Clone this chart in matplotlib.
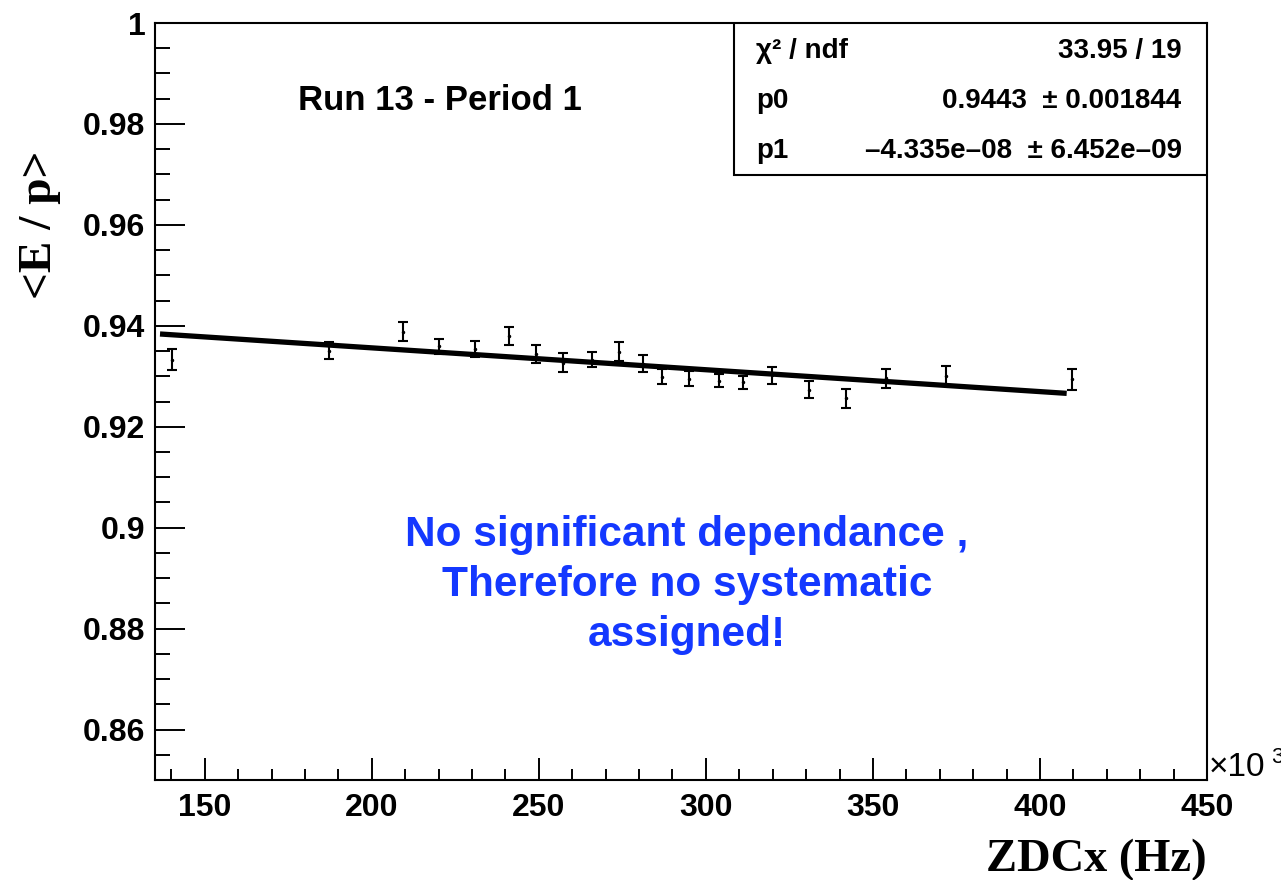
import numpy as np
import matplotlib
matplotlib.use("Agg")
import matplotlib.pyplot as plt
from matplotlib.ticker import MultipleLocator, FuncFormatter
from matplotlib.patches import Rectangle

# ZDCx rate (Hz), <E/p> and its error
zdcx = [140100, 187100, 209200, 220100, 231000, 241000, 249000, 257200, 266000, 274000,
        281100, 286900, 294900, 303800, 311000, 319900, 331000, 341900, 353900, 371800, 409700]
eop = [0.9333, 0.9351, 0.9388, 0.9359, 0.9354, 0.9380, 0.9344, 0.9327, 0.9333, 0.9349,
       0.9325, 0.9299, 0.9295, 0.9291, 0.9288, 0.9302, 0.9273, 0.9256, 0.9296, 0.9301, 0.9294]
eop_err = [0.00205, 0.00175, 0.0019, 0.0014, 0.0015, 0.00185, 0.0017, 0.00185, 0.00155, 0.0019,
           0.0017, 0.00145, 0.0015, 0.0013, 0.0013, 0.0017, 0.0017, 0.0019, 0.0019, 0.0019, 0.0021]

# fit result (pol1)
p0, p0_err = 0.9443, 0.001844
p1, p1_err = -4.335e-08, 6.452e-09
chi2, ndf = 33.95, 19
fit_range = [136600, 408000]

sans = "Liberation Sans"
serif = "Liberation Serif"

fig = plt.figure(figsize=(12.81, 8.8), dpi=100)
ax = fig.add_axes([155 / 1281, 1 - 780 / 880, 1052 / 1281, 757 / 880])

ax.errorbar(zdcx, eop, yerr=eop_err, fmt="o", color="black", markersize=1.5,
            elinewidth=1.5, capsize=3.5, capthick=1.5)

xf = np.array(fit_range)
ax.plot(xf, p0 + p1 * xf, color="black", linewidth=3.8, solid_capstyle="butt")

ax.set_xlim(135100, 450000)
ax.set_ylim(0.85, 1.0)
ax.xaxis.set_major_locator(MultipleLocator(50000))
ax.xaxis.set_minor_locator(MultipleLocator(10000))
ax.yaxis.set_major_locator(MultipleLocator(0.02))
ax.yaxis.set_minor_locator(MultipleLocator(0.005))
ax.xaxis.set_major_formatter(FuncFormatter(lambda v, pos: f"{v / 1000:g}"))
ax.yaxis.set_major_formatter(FuncFormatter(lambda v, pos: f"{round(v, 4):g}"))

ax.tick_params(axis="y", which="major", direction="in", length=21.6, width=1.4, pad=7)
ax.tick_params(axis="y", which="minor", direction="in", length=10.8, width=1.4)
ax.tick_params(axis="x", which="major", direction="in", length=15.8, width=1.4, pad=9)
ax.tick_params(axis="x", which="minor", direction="in", length=7.9, width=1.4)
for lab in ax.get_xticklabels() + ax.get_yticklabels():
    lab.set_fontfamily(sans)
    lab.set_fontweight("bold")
    lab.set_fontsize(23)
for sp in ax.spines.values():
    sp.set_linewidth(1.5)

# stats box
ax.add_patch(Rectangle((0.5504, 0.7992), 0.4496, 0.2008, transform=ax.transAxes,
                       facecolor="white", edgecolor="black", linewidth=1.5, zorder=5))
rows = [
    ("χ² / ndf", f"{chi2:.2f} / {ndf}"),
    ("p0", f"{p0:.4f}  ± {p0_err:.6f}"),
    ("p1", "\u20134.335e\u201308  ± 6.452e\u201309"),
]
for (name, val), yb in zip(rows, [0.9538, 0.8877, 0.8217]):
    ax.text(0.5713, yb, name, transform=ax.transAxes, ha="left", va="baseline",
            fontsize=20, fontweight="bold", family=sans, zorder=6)
    ax.text(0.9758, yb, val, transform=ax.transAxes, ha="right", va="baseline",
            fontsize=20, fontweight="bold", family=sans, zorder=6)

ax.text(0.2704, 0.898, "Run 13 - Period 1", transform=ax.transAxes, ha="center", va="center",
        fontsize=25, fontweight="bold", family=sans)

ax.text(0.5057, 0.2576, "No significant dependance ,\nTherefore no systematic\nassigned!",
        transform=ax.transAxes, ha="center", va="center", fontsize=30.5, fontweight="bold",
        family=sans, color="#1438ff", linespacing=1.33)

# axis titles
fig.text(40 / 1281, 1 - 151 / 880, "<E / p>", rotation=90, ha="center", va="top",
         fontsize=34, fontweight="bold", family=serif)
fig.text(1207 / 1281, 1 - 860 / 880, "ZDCx (Hz)", ha="right", va="center",
         fontsize=33.5, fontweight="bold", family=serif)
fig.text(1209 / 1281, 1 - 768 / 880, "×10", ha="left", va="center", fontsize=24, family=sans)
fig.text(1271 / 1281, 1 - 757 / 880, "3", ha="left", va="center", fontsize=16, family=sans)

fig.savefig("out.png", dpi=100)
